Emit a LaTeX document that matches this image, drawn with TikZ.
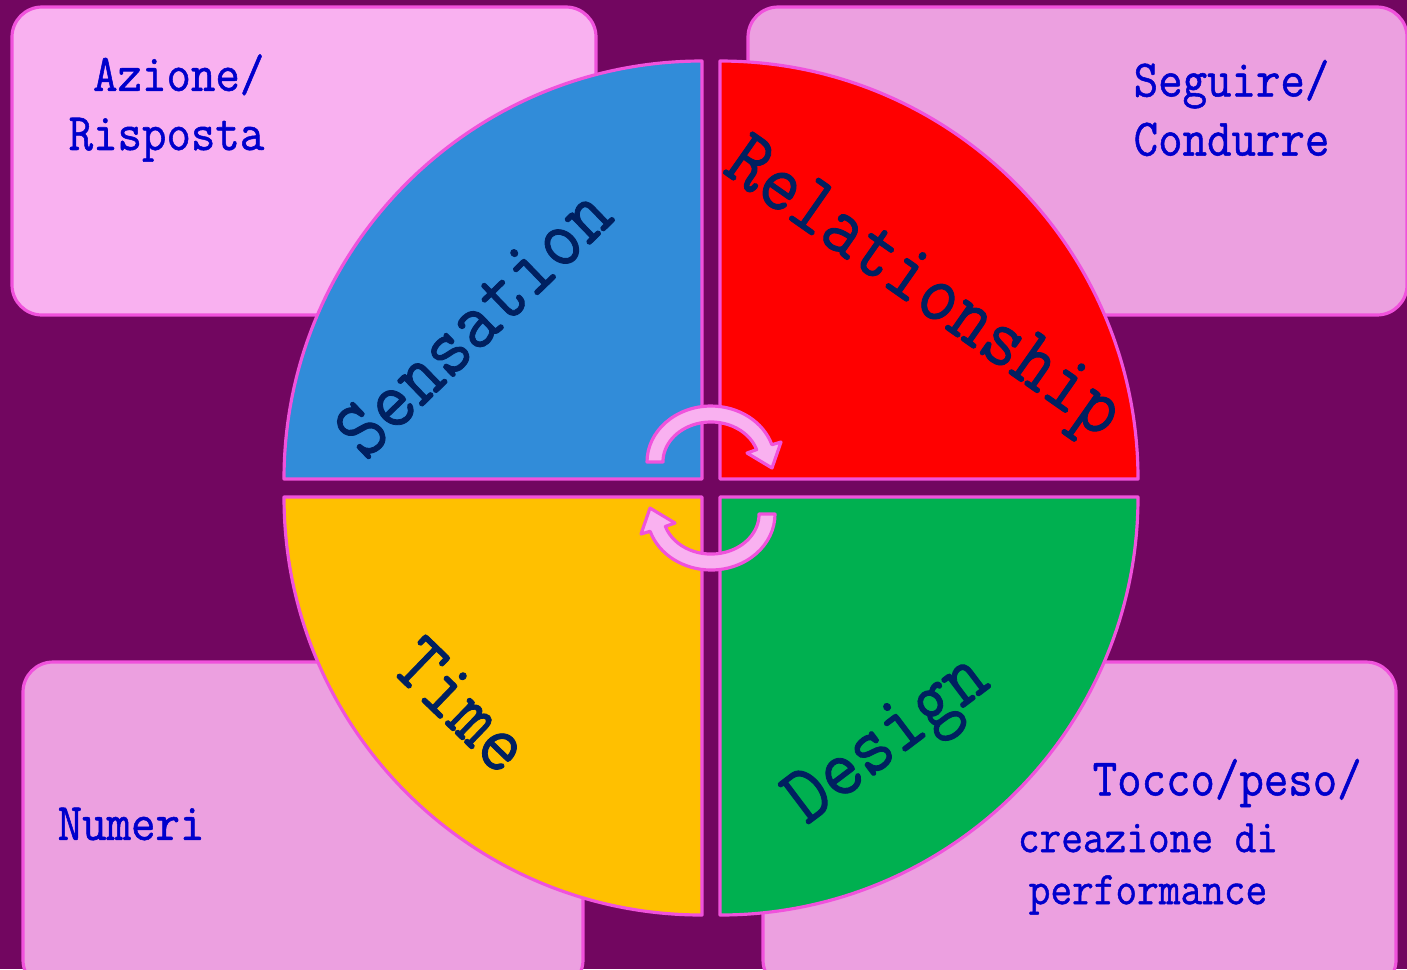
\documentclass[tikz,border=0pt]{standalone}
\usepackage{fontspec}
\newfontfamily\monofont[FakeStretch=0.9, FakeBold=1]{Latin Modern Mono}
\usetikzlibrary{calc}

\definecolor{bgpurple}{RGB}{114,6,96}
\definecolor{rim}{RGB}{240,82,220}
\definecolor{paleA}{RGB}{249,177,240}
\definecolor{paleB}{RGB}{236,160,224}
\definecolor{qblue}{RGB}{49,140,217}
\definecolor{qred}{RGB}{255,0,0}
\definecolor{qyellow}{RGB}{255,192,0}
\definecolor{qgreen}{RGB}{0,176,80}
\definecolor{navy}{RGB}{0,32,96}
\definecolor{inkblue}{RGB}{0,0,204}

\begin{document}
\begin{tikzpicture}[x=0.01cm, y=-0.01cm, line cap = round, line join = round]
\tikzstyle{card}=[draw=rim, line width=0.9pt, rounded corners=3mm]
\tikzstyle{quarter}=[draw=rim, line width=0.9pt]
\tikzstyle{turn}=[draw=rim, fill=paleA, line width=0.9pt]
\tikzstyle{qlabel}=[text=navy, inner sep=0pt, font=\monofont\fontsize{23.8}{26}\selectfont]
\tikzstyle{note}=[text=inkblue, inner sep=0pt, font=\monofont\fontsize{15}{16.8}\selectfont]
\tikzstyle{smallnote}=[text=inkblue, inner sep=0pt, font=\monofont\fontsize{13.3}{14.8}\selectfont]

\fill[bgpurple] (0,0) rectangle (1407,969);
\useasboundingbox (0,0) rectangle (1407,969);

% corner cards
\draw[card, fill=paleA] (12,7) rectangle (596,315);
\draw[card, fill=paleB] (748,7) rectangle (1407,315);
\draw[card, fill=paleB] (23,662) rectangle (583,990);
\draw[card, fill=paleB] (763,662) rectangle (1396,990);

% the four quarters
\draw[quarter, fill=qblue] (702,479) -- ++(-418,0) arc[start angle=180, end angle=270, radius=418] -- cycle;
\draw[quarter, fill=qred] (720,479) -- ++(0,-418) arc[start angle=270, end angle=360, radius=418] -- cycle;
\draw[quarter, fill=qgreen] (720,497) -- ++(418,0) arc[start angle=0, end angle=90, radius=418] -- cycle;
\draw[quarter, fill=qyellow] (702,497) -- ++(0,418) arc[start angle=90, end angle=180, radius=418] -- cycle;

% turning arrows
\draw[turn] (663,462) -- (647,462) arc[start angle=180, end angle=342, x radius=64, y radius=56]
  -- (781,442) -- (772,468) -- (747,453) -- (756.6,449.6)
  arc[start angle=342, end angle=180, x radius=48, y radius=40] -- cycle;
\begin{scope}[rotate around={180:(711,488)}]
\draw[turn] (663,462) -- (647,462) arc[start angle=180, end angle=342, x radius=64, y radius=56]
  -- (781,442) -- (772,468) -- (747,453) -- (756.6,449.6)
  arc[start angle=342, end angle=180, x radius=48, y radius=40] -- cycle;
\end{scope}

\node[qlabel, rotate=44] (sensation) at (473,322) {Sensation};
\node[qlabel, rotate=-35] (relation) at (921,292) {Relationship};
\node[qlabel, rotate=-44] (time) at (462,705) {Time};
\node[qlabel, rotate=37] (design) at (890,743) {Design};

\node[note, align=right, anchor=east] (azione) at (265,108) {Azione/\\Risposta};
\node[note, align=left, anchor=west] (seguire) at (1133,108) {Seguire/\\Condurre};
\node[note, anchor=west] (numeri) at (57,824) {Numeri};
\node[note, anchor=west] (tocco) at (1092,783) {Tocco/peso/};
\node[smallnote, align=center] (creazione) at (1148,869) {creazione di\\performance};
\end{tikzpicture}
\end{document}
